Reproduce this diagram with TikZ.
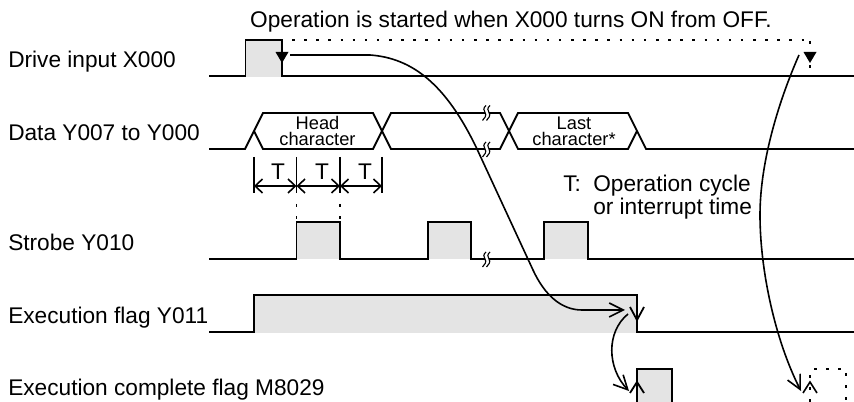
\documentclass[tikz,border=0pt]{standalone}
\usepackage{fontspec}
\setmainfont{Liberation Sans}
\usetikzlibrary{arrows.meta}
\definecolor{fillg}{gray}{0.895}
\tikzset{
  sig/.style={line width=1.35pt,line join=miter,line cap=butt},
  thin sig/.style={line width=1.2pt},
  lab/.style={anchor=base west,inner sep=0pt,font=\fontsize{17}{18}\selectfont},
  labc/.style={anchor=base,inner sep=0pt,font=\fontsize{17}{18}\selectfont},
  small/.style={anchor=base,inner sep=0pt,font=\fontsize{13.7}{13.6}\selectfont},
  dot/.style={line width=1.3pt,dash pattern=on 1.9pt off 7.2pt},
  openh/.style={-{Straight Barb[length=10.5pt,width=10.5pt,line width=1.2pt]}},
  tbar/.style={{Straight Barb[length=5.5pt,width=10.5pt,line width=1.2pt]}-{Straight Barb[length=5.5pt,width=10.5pt,line width=1.2pt]}},
  brk/.pic={
    \fill[white,x=0.75pt,y=-0.75pt] (0.5,-1.6) rectangle (4,1.6);
    \draw[line width=0.85pt,x=0.75pt,y=-0.75pt] (1.5,-7.5) .. controls (-1.5,-5) and (-1,-2.5) .. (0.5,-0.5) .. controls (2.5,2.5) and (0,5.5) .. (-2,7.5);
    \draw[line width=0.85pt,x=0.75pt,y=-0.75pt] (5.5,-7.5) .. controls (2.5,-5) and (3,-2.5) .. (4.5,-0.5) .. controls (6.5,2.5) and (4,5.5) .. (2,7.5);
  }
}
\begin{document}
\begin{tikzpicture}[x=0.75pt,y=-0.75pt]
\useasboundingbox (0,0) rectangle (854,402);
% fills
\fill[fillg] (246,41) rectangle (282,77);
\fill[fillg] (297,223) rectangle (340,259);
\fill[fillg] (428,223) rectangle (471,259);
\fill[fillg] (544,223) rectangle (588,259);
\fill[fillg] (254,296) rectangle (636,333.5);
\fill[fillg] (637,370) rectangle (672,402);
% labels
\node[lab] (l1) at (8,67.7) {Drive input X000};
\node[lab] (l2) at (8,141) {Data Y007 to Y000};
\node[lab] (l3) at (8,251) {Strobe Y010};
\node[lab] (l4) at (8,323.3) {Execution flag Y011};
\node[lab] (l5) at (8,396) {Execution complete flag M8029};
\node[labc] (top) at (511,28) {Operation is started when X000 turns ON from OFF.};
\node[lab] (tk) at (563,191.7) {T:};
\node[lab] (tt1) at (593,191.7) {Operation cycle};
\node[lab] (tt2) at (593,215) {or interrupt time};
\node[small] (hd1) at (317.5,129.3) {Head};
\node[small] (hd2) at (317.5,146) {character};
\node[small] (ls1) at (574,129.3) {Last};
\node[small] (ls2) at (574,146) {character*};
% signals
\draw[sig] (209,76) -| (245.5,40) -| (282,76) -- (854,76);
\draw[sig] (209,149) -- (245,149) -- (263,113) -- (373,113) -- (391,149) -- (500,149) -- (518,113) -- (628,113) -- (646,149) -- (854,149);
\draw[sig] (254,131) -- (263,149) -- (373,149) -- (391,113) -- (500,113) -- (518,149) -- (628,149) -- (637,131);
\draw[sig] (209,259) -| (296.5,222) -| (340,259) -| (428,222) -| (471,259) -| (544,222) -| (588,259) -- (854,259);
\draw[sig] (209,332) -| (254,295) -| (637,332) -- (854,332);
\draw[sig] (637,402) |- (672,369) -- (672,402);
% breaks
\path (484.5,113) pic {brk};
\path (484.5,149.5) pic {brk};
\path (484.5,259.5) pic {brk};
% T dims
\coordinate (t0) at (254,186); \coordinate (t1) at (296.5,186); \coordinate (t2) at (340,186); \coordinate (t3) at (382,186);
\foreach \n in {t0,t1,t2,t3} \draw[sig] (\n) ++(0,-29) -- ++(0,36);
\draw[thin sig,tbar] (t0) -- (t1);
\draw[thin sig,tbar] (t1) -- (t2);
\draw[thin sig,tbar] (t2) -- (t3);
\node[labc] (T1) at (278,180) {T};
\node[labc] (T2) at (322,180) {T};
\node[labc] (T3) at (365,180) {T};
\draw[dot] (296.5,204) -- (296.5,222);
\draw[dot] (340,204) -- (340,222);
% dotted top
\draw[dot] (292,40) -- (806,40);
\draw[dot] (810,41) -- (810,72);
% triangles
\coordinate (tri1) at (282,63); \coordinate (tri2) at (810,63);
\fill (tri1) -- ++(-6.5,-11) -- ++(13,0) -- cycle;
\fill (tri2) -- ++(-6.5,-11) -- ++(13,0) -- cycle;
% curves
\coordinate (c1s) at (290,55); \coordinate (c1e) at (625,310);
\draw[thin sig,openh] (c1s) -- (370,55) .. controls (412,58) and (446,84) .. (477,149) -- (533,270) .. controls (545,296) and (562,310) .. (582,310) -- (c1e);
\coordinate (c2s) at (628,314); \coordinate (c2e) at (629,391);
\draw[thin sig,openh] (c2s) .. controls (606,332) and (607,368) .. (c2e);
\coordinate (c3s) at (799,55); \coordinate (c3e) at (801,391);
\draw[thin sig,openh] (c3s) .. controls (780,98) and (760,160) .. (760,215) .. controls (760,270) and (775,340) .. (c3e);
% open arrowheads on edges
\coordinate (a1) at (637,320); \coordinate (a2) at (637,382); \coordinate (a3) at (810,382);
\draw[sig] (630,307) -- (a1) -- (644,307);
\draw[sig] (630,393) -- (a2) -- (644,393);
\draw[thin sig] (803,393) -- (a3) -- (817,393);
% dotted bottom right
\draw[dot] (810,402) -- (810,372);
\draw[dot] (814,369) -- (846,369);
\draw[dot] (846,373) -- (846,402);
\end{tikzpicture}
\end{document}
